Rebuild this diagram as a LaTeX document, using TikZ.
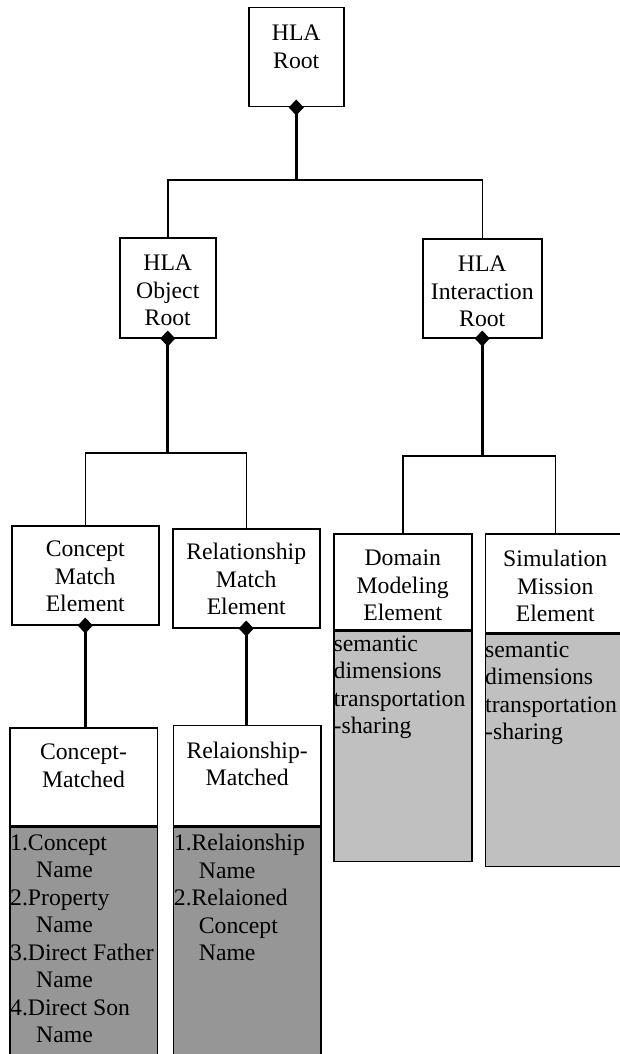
\documentclass[tikz,border=0pt]{standalone}
\usepackage{fontspec}
\setmainfont{Liberation Serif}
\usetikzlibrary{arrows.meta,positioning}
\definecolor{darkfill}{RGB}{150,150,150}
\definecolor{lightfill}{RGB}{192,192,192}

\begin{document}
\begin{tikzpicture}[x=1pt, y=-1pt, font=\fontsize{23.7}{27.5}\selectfont,
    box/.style = {draw, line width=1.5pt, fill=white, inner sep=0pt, anchor=north west},
    darkbox/.style = {box, fill=darkfill},
    lightbox/.style = {box, fill=lightfill},
    boxtext/.style = {inner sep=0pt, align=center},
    listtext/.style = {inner sep=0pt, align=left, anchor=north west},
    link/.style = {line width=1.5pt},
    has/.style = {line width=2.6pt, {Diamond[length=16pt,width=15pt]}-}]
    \useasboundingbox (0,0) rectangle (619,1054);

    % class boxes
    \node[box, minimum width=95pt, minimum height=99pt] (root) at (248,7) {};
    \node[box, minimum width=96pt, minimum height=100pt] (objroot) at (119,237) {};
    \node[box, minimum width=119pt, minimum height=99pt] (introot) at (422,238) {};
    \node[box, minimum width=147pt, minimum height=99pt] (cme) at (11,525) {};
    \node[box, minimum width=147pt, minimum height=99pt] (rme) at (172,528) {};
    \node[box, minimum width=138pt, minimum height=96pt] (dme) at (333,533) {};
    \node[box, minimum width=140pt, minimum height=99pt] (sme) at (484.5,533) {};
    \node[box, minimum width=147.5pt, minimum height=98pt] (cmd) at (9,727) {};
    \node[box, minimum width=147.5pt, minimum height=100pt] (rmd) at (172.7,724.5) {};

    % attribute boxes
    \node[lightbox, minimum width=138pt, minimum height=230pt] (dmeg) at (dme.south west) {};
    \node[lightbox, minimum width=140pt, minimum height=232pt] (smeg) at (sme.south west) {};
    \node[darkbox, minimum width=147.5pt, minimum height=240pt] (cmdg) at (cmd.south west) {};
    \node[darkbox, minimum width=147.5pt, minimum height=240pt] (rmdg) at (rmd.south west) {};

    % box titles
    \node[boxtext, below=18pt of root.north] (roott) {HLA\\Root};
    \node[boxtext, below=18pt of objroot.north] (objroott) {HLA\\Object\\Root};
    \node[boxtext, below=18pt of introot.north] (introott) {HLA\\Interaction\\Root};
    \node[boxtext, below=16pt of cme.north] (cmet) {Concept\\Match\\Element};
    \node[boxtext, below=15pt of rme.north] (rmet) {Relationship\\Match\\Element};
    \node[boxtext, below=17pt of dme.north] (dmet) {Domain\\Modeling\\Element};
    \node[boxtext, below=17pt of sme.north] (smet) {Simulation\\Mission\\Element};
    \node[boxtext, below=17pt of cmd.north] (cmdt) {Concept-\\Matched};
    \node[boxtext, below=17pt of rmd.north] (rmdt) {Relaionship-\\Matched};

    % attribute lists
    \node[listtext, below right=5pt and 0.5pt of dmeg.north west] (dmel) {semantic\\dimensions\\transportation\\-sharing};
    \node[listtext, below right=8pt and 0.5pt of smeg.north west] (smel) {semantic\\dimensions\\transportation\\-sharing};
    \node[listtext, below right=8pt and 1pt of cmdg.north west] (cmdl) {1.Concept\\\hspace*{26pt}Name\\2.Property\\\hspace*{26pt}Name\\3.Direct Father\\\hspace*{26pt}Name\\4.Direct Son\\\hspace*{26pt}Name};
    \node[listtext, below right=8pt and 1pt of rmdg.north west] (rmdl) {1.Relaionship\\\hspace*{25pt}Name\\2.Relaioned\\\hspace*{25pt}Concept\\\hspace*{25pt}Name};

    % joints
    \coordinate (j1) at (root.south |- 0,180);
    \coordinate (j2) at (objroot.south |- 0,453);
    \coordinate (j3) at (introot.south |- 0,456);

    % connectors
    \draw[has] ([yshift=8pt]root.south) -- (j1);
    \draw[link] (objroot.north) |- (j1) -| (introot.north);
    \draw[has] ([yshift=8pt]objroot.south) -- (j2);
    \draw[link] (cme.north) |- (j2) -| (rme.north);
    \draw[has] ([yshift=8pt]introot.south) -- (j3);
    \draw[link] (dme.north) |- (j3) -| (sme.north);
    \draw[has] ([yshift=8pt]cme.south) -- (cme.south |- cmd.north);
    \draw[has] ([yshift=8pt]rme.south) -- (rme.south |- rmd.north);
\end{tikzpicture}
\end{document}
